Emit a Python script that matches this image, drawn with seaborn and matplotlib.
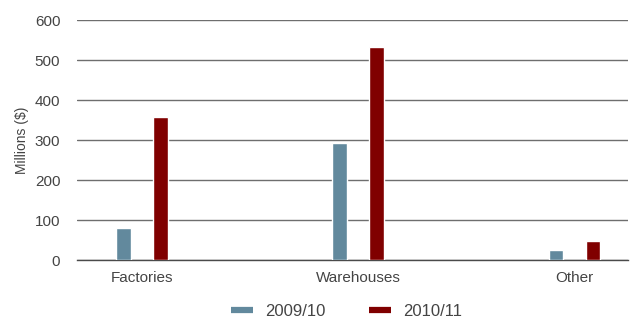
import matplotlib
matplotlib.use('Agg')
import matplotlib.pyplot as plt
import pandas as pd
import seaborn as sns

categories = ['Factories', 'Warehouses', 'Other']
years = ['2009/10', '2010/11']
vals_0910 = [81, 293, 25]
vals_1011 = [357, 533, 48]
yticks = [0, 100, 200, 300, 400, 500, 600]

df = pd.DataFrame({
    'category': categories * 2,
    'year': [years[0]] * 3 + [years[1]] * 3,
    'value': vals_0910 + vals_1011,
})

sns.set_style('white')
plt.rcParams['font.family'] = ['Liberation Sans', 'DejaVu Sans']

fig = plt.figure(figsize=(6.33, 3.18), dpi=100)
ax = fig.add_axes([0.1216, 0.182, 0.8704, 0.755])

palette = {'2009/10': '#62899d', '2010/11': '#800000'}
sns.barplot(data=df, x='category', y='value', hue='year', order=categories,
            hue_order=years, palette=palette, width=0.34, gap=0.6,
            saturation=1, ax=ax, zorder=3)

ax.set_ylim(0, 600)
ax.set_xlim(-0.30, 2.247)
ax.set_yticks(yticks)
ax.yaxis.grid(True, color='#6e6e6e', linewidth=1.0, zorder=0)
ax.set_axisbelow(True)
for s in ['top', 'right', 'left']:
    ax.spines[s].set_visible(False)
ax.spines['bottom'].set_color('#4a4a4a')
ax.spines['bottom'].set_linewidth(1.0)
ax.tick_params(axis='both', length=0, labelsize=11, labelcolor='#444444')
ax.tick_params(axis='y', pad=12)
ax.tick_params(axis='x', pad=8)
ax.set_xlabel('')
ax.set_ylabel('Millions ($)', fontsize=10, color='#444444', labelpad=4)

ax.get_legend().remove()
handles = [plt.Line2D([], [], color=palette[y], linewidth=4.5,
                      solid_capstyle='butt') for y in years]
fig.legend(handles, years, loc='center', bbox_to_anchor=(0.547, 0.022),
           ncol=2, frameon=False, prop={'size': 12}, handlelength=1.35,
           handletextpad=0.7, columnspacing=2.6, labelcolor='#444444')

fig.savefig('out.png', dpi=100)
